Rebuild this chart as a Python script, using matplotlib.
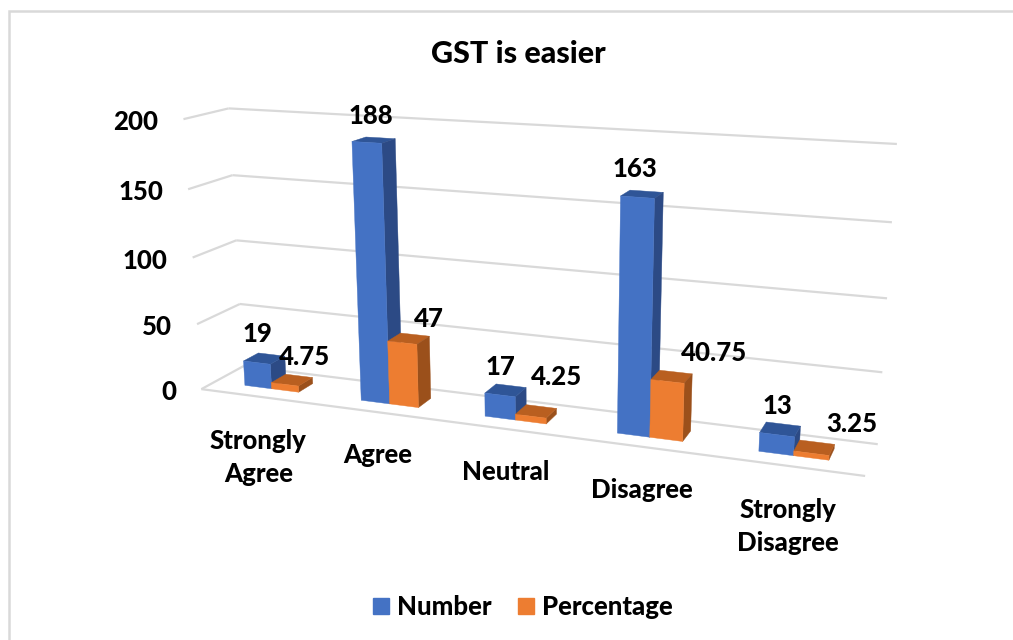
import numpy as np
import matplotlib
matplotlib.use("Agg")
import matplotlib.pyplot as plt
from matplotlib.patches import Patch, Rectangle
from mpl_toolkits.mplot3d.art3d import Line3DCollection

categories = ["Strongly\nAgree", "Agree", "Neutral", "Disagree", "Strongly\nDisagree"]
number_values = [19, 188, 17, 163, 13]
percentage_values = [4.75, 47, 4.25, 40.75, 3.25]
percentage_labels = ["4.75", "47", "4.25", "40.75", "3.25"]
value_ticks = [0, 50, 100, 150, 200]

W, H = 1013, 640
BAR_W = 0.235
Y0, Y1 = 0.32, 0.68
FONT = "Lato"
WEIGHT = 900
TEXT = "#000000"
GRID = "#D9D9D9"

# camera fit: (category pos, depth, value) -> pixel
calib = [
    (0, 0, 200, 183, 119), (0, 0, 150, 188, 189), (0, 0, 100, 193, 258), (0, 0, 50, 197, 324), (0, 0, 0, 202, 389),
    (0, 1, 200, 229, 108), (0, 1, 150, 232, 175), (0, 1, 100, 236, 241), (0, 1, 50, 240, 304), (0, 1, 0, 243, 366),
    (5, 1, 200, 897, 144), (5, 1, 150, 892, 222), (5, 1, 100, 887, 299), (5, 1, 50, 882, 372), (5, 1, 0, 878, 444),
    (5, 0, 0, 866, 476),
    (0.5, Y0, 0, 271, 388), (1.5, Y0, 0, 389, 404), (2.5, Y0, 0, 515, 421), (3.5, Y0, 0, 649, 437), (4.5, Y0, 0, 793, 455),
    (1.5, Y0, 188, 382, 143), (3.5, Y0, 163, 654, 197),
    (1.5 + BAR_W, Y0, 0, 419, 408), (3.5 + BAR_W, Y0, 0, 683, 442),
    (1.5 - BAR_W, Y0, 188, 352, 142), (3.5 - BAR_W, Y0, 163, 620, 197),
    (1.5, Y1, 188, 396, 139), (1.5 + BAR_W, Y1, 0, 432, 398),
]


def fit_camera(points):
    rows, rhs = [], []
    for x, y, z, u, v in points:
        z = z / 100
        rows.append([x, y, z, 1, 0, 0, 0, 0, -u * x, -u * y, -u * z])
        rhs.append(u)
        rows.append([0, 0, 0, 0, x, y, z, 1, -v * x, -v * y, -v * z])
        rhs.append(v)
    h = np.linalg.lstsq(np.array(rows, dtype=float), np.array(rhs, dtype=float), rcond=None)[0]
    P = np.append(h, 1.0).reshape(3, 4)
    P[:, 2] /= 100
    return P


P = fit_camera(calib)


def to_pixel(x, y, z):
    u, v, w = P @ np.array([x, y, z, 1.0])
    return u / w, v / w


fig = plt.figure(figsize=(W / 100, H / 100), dpi=100)
pad = (W - H) / 2
ax = fig.add_axes([0, -pad / H, 1, W / H], projection="3d", computed_zorder=False)
ax.set_axis_off()
ax.patch.set_alpha(0)
M = np.vstack([P[0], P[1], [0, 1, 0, 0], P[2]])
ax.get_proj = lambda: M


def draw_bar(x, dx, value, front, top, side, order):
    # face order in bar3d: bottom, top, front, back, left, right
    none = (0, 0, 0, 0)
    faces = [none, top, front, none, none, side]
    ax.bar3d(x, Y0, 0, dx, Y1 - Y0, value, color=faces, shade=False, edgecolor=faces, linewidth=0.3, zorder=order)


grid_segments = []
for v in value_ticks:
    grid_segments.append([(0, 0, v), (0, 1, v)])
    grid_segments.append([(0, 1, v), (5, 1, v)])
grid_segments.append([(0, 0, 0), (5, 0, 0)])
ax.add_collection3d(Line3DCollection(grid_segments, colors=GRID, linewidths=1.6, zorder=1))

for i in range(len(categories)):
    c = i + 0.5
    draw_bar(c - BAR_W, BAR_W, number_values[i], "#4472C4", "#2F5597", "#2C4A85", 10 + 2 * i)
    draw_bar(c, BAR_W, percentage_values[i], "#ED7D31", "#B95F20", "#9B501B", 11 + 2 * i)

# tick and category labels hang off the projected axis points
for v in value_ticks:
    px, py = to_pixel(0, 0, v)
    ax.text2D(px - 25, py + 3, str(v), transform=ax.transData, ha="right", va="center",
              fontsize=18.5, fontweight=WEIGHT, family=FONT, color=TEXT)

for i, name in enumerate(categories):
    px, py = to_pixel(i + 0.5, 0, 0)
    ax.text2D(px, py + 43 + 18 * name.count("\n"), name, transform=ax.transData, ha="center", va="center",
              fontsize=18.5, fontweight=WEIGHT, family=FONT, color=TEXT, linespacing=1.45, zorder=30)

number_offsets = [(-7, -25), (-3, -24), (-5, -23), (-7, -25), (-3, -23)]
percentage_offsets = [(13, -23), (20, -20), (20, -34), (42, -24), (38, -24)]
for i in range(len(categories)):
    px, py = to_pixel(i + 0.5 - BAR_W / 2, 0.5, number_values[i])
    ax.text2D(px + number_offsets[i][0], py + number_offsets[i][1], str(number_values[i]), transform=ax.transData,
              ha="center", va="center", fontsize=18.5, fontweight=WEIGHT, family=FONT, color=TEXT, zorder=40)
    px, py = to_pixel(i + 0.5 + BAR_W / 2, 0.5, percentage_values[i])
    ax.text2D(px + percentage_offsets[i][0], py + percentage_offsets[i][1], percentage_labels[i], transform=ax.transData,
              ha="center", va="center", fontsize=18.5, fontweight=WEIGHT, family=FONT, color=TEXT, zorder=40)

ax.viewLim.intervalx = (0, W)
ax.viewLim.intervaly = (H + pad, -pad)

fig.text(518 / W, 1 - 54 / H, "GST is easier", ha="center", va="center", fontsize=22, fontweight=WEIGHT,
         family=FONT, color=TEXT)

handles = [Patch(color="#4472C4", label="Number"), Patch(color="#ED7D31", label="Percentage")]
fig.legend(handles=handles, loc="center", bbox_to_anchor=(523 / W, 1 - 607 / H), ncol=2, frameon=False,
           handlelength=0.62, handleheight=0.62, handletextpad=0.3, columnspacing=1.05,
           prop={"family": FONT, "weight": WEIGHT, "size": 18.5})

fig.add_artist(Rectangle((9 / W, -0.01), 1010 / W, 1 - 11 / H + 0.01, transform=fig.transFigure, fill=False,
                         edgecolor=GRID, linewidth=1.8))

fig.savefig("out.png", dpi=100)
